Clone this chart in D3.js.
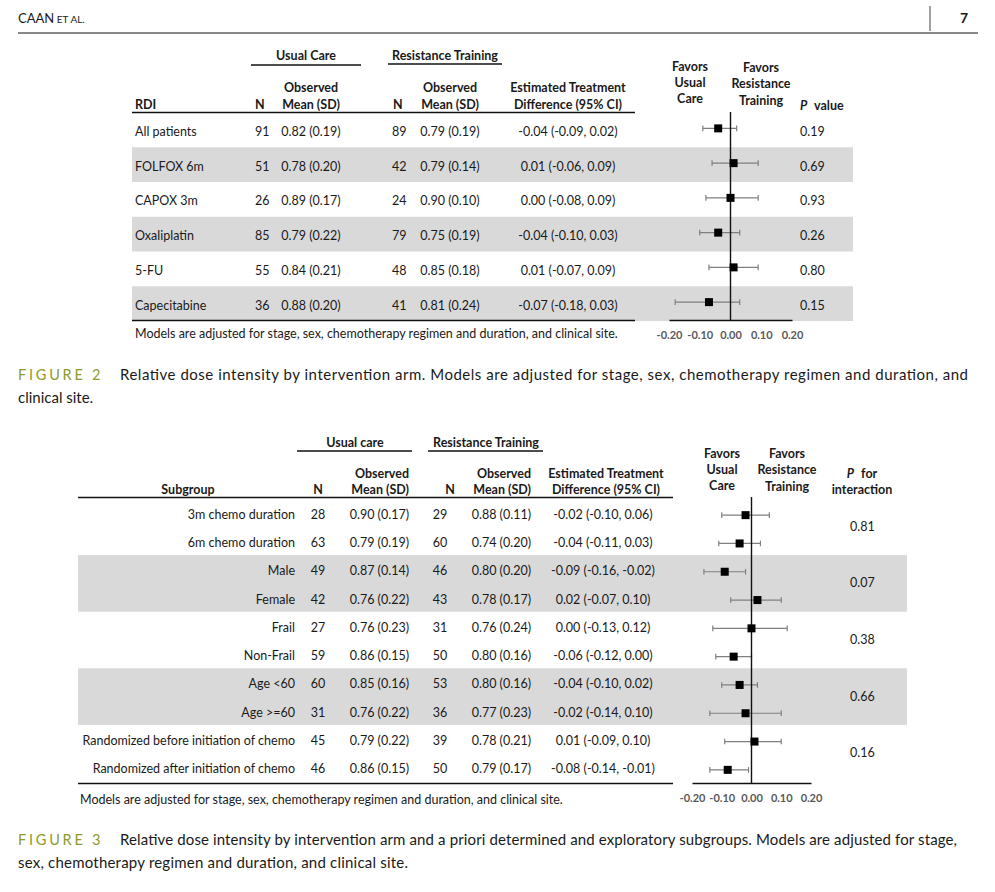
<!DOCTYPE html>
<html>
<head>
<meta charset="UTF-8">
<script src="https://d3js.org/d3.v7.min.js"></script>
<style>
	body{ margin: 0; background: #fff; }
	svg text{ font-family: Lato, 'Open Sans', sans-serif; fill: #1a1a1a; }
</style>
</head>
<body>
<svg width="995" height="892"></svg>
<script>
	// ---- Figure 2 data (RDI by arm)
	var rdiLabels = ["All patients", "FOLFOX 6m", "CAPOX 3m", "Oxaliplatin", "5-FU", "Capecitabine"];
	var rdiUcN = [91, 51, 26, 85, 55, 36];
	var rdiUcMean = [0.82, 0.78, 0.89, 0.79, 0.84, 0.88];
	var rdiUcSd = [0.19, 0.20, 0.17, 0.22, 0.21, 0.20];
	var rdiRtN = [89, 42, 24, 79, 48, 41];
	var rdiRtMean = [0.79, 0.79, 0.90, 0.75, 0.85, 0.81];
	var rdiRtSd = [0.19, 0.14, 0.10, 0.19, 0.18, 0.24];
	var rdiEst = [-0.04, 0.01, 0.00, -0.04, 0.01, -0.07];
	var rdiLo = [-0.09, -0.06, -0.08, -0.10, -0.07, -0.18];
	var rdiHi = [0.02, 0.09, 0.09, 0.03, 0.09, 0.03];
	var rdiP = ["0.19", "0.69", "0.93", "0.26", "0.80", "0.15"];

	// ---- Figure 3 data (subgroups)
	var subLabels = ["3m chemo duration", "6m chemo duration", "Male", "Female", "Frail", "Non-Frail",
		"Age <60", "Age >=60", "Randomized before initiation of chemo", "Randomized after initiation of chemo"];
	var subUcN = [28, 63, 49, 42, 27, 59, 60, 31, 45, 46];
	var subUcMean = [0.90, 0.79, 0.87, 0.76, 0.76, 0.86, 0.85, 0.76, 0.79, 0.86];
	var subUcSd = [0.17, 0.19, 0.14, 0.22, 0.23, 0.15, 0.16, 0.22, 0.22, 0.15];
	var subRtN = [29, 60, 46, 43, 31, 50, 53, 36, 39, 50];
	var subRtMean = [0.88, 0.74, 0.80, 0.78, 0.76, 0.80, 0.80, 0.77, 0.78, 0.79];
	var subRtSd = [0.11, 0.20, 0.20, 0.17, 0.24, 0.16, 0.16, 0.23, 0.21, 0.17];
	var subEst = [-0.02, -0.04, -0.09, 0.02, 0.00, -0.06, -0.04, -0.02, 0.01, -0.08];
	var subLo = [-0.10, -0.11, -0.16, -0.07, -0.13, -0.12, -0.10, -0.14, -0.09, -0.14];
	var subHi = [0.06, 0.03, -0.02, 0.10, 0.12, 0.00, 0.02, 0.10, 0.10, -0.01];
	var subPInteraction = ["0.81", "0.07", "0.38", "0.66", "0.16"];

	var forestTicks = [-0.20, -0.10, 0.00, 0.10, 0.20];
	var footnote = "Models are adjusted for stage, sex, chemotherapy regimen and duration, and clinical site.";

	var svg = d3.select("svg");
	var f2 = function(v){ return v.toFixed(2); };   // plain hyphen minus, not d3's unicode minus
	var BAND = "#d9d9d9", BAR = "#7f7f7f", FS = 12.5;

	function txt(g, x, y, s, opt){
		opt = opt || {};
		return g.append("text").attr("x", x).attr("y", y)
			.attr("text-anchor", opt.anchor || "start")
			.attr("font-size", opt.size || FS)
			.attr("font-weight", opt.bold ? "bold" : null)
			.text(s);
	}
	function hline(g, x1, x2, y, w){
		g.append("line").attr("x1", x1).attr("x2", x2).attr("y1", y).attr("y2", y)
			.attr("stroke", "#111").attr("stroke-width", w || 1.3);
	}

	// ---- Page header
	var head = svg.append("g");
	var caan = txt(head, 18, 23, "CAAN", {size: 13});
	caan.append("tspan").attr("font-size", 10).text(" ET AL.");
	txt(head, 968, 23, "7", {size: 14, anchor: "end", bold: true});
	head.append("line").attr("x1", 930).attr("x2", 930).attr("y1", 6).attr("y2", 31)
		.attr("stroke", "#444").attr("stroke-width", 1);
	hline(head, 18, 978, 33, 1);

	// ---- Shared forest drawing
	function forest(g, x, y, est, lo, hi, yTop, yAxis, dy){
		g.selectAll(".ci").data(est).enter().append("line")
			.attr("x1", function(d, i){ return x(lo[i]); })
			.attr("x2", function(d, i){ return x(hi[i]); })
			.attr("y1", function(d, i){ return y(i) + dy; })
			.attr("y2", function(d, i){ return y(i) + dy; })
			.attr("stroke", BAR).attr("stroke-width", 1.2);
		[lo, hi].forEach(function(arr){
			g.selectAll(null).data(arr).enter().append("line")
				.attr("x1", function(d){ return x(d); }).attr("x2", function(d){ return x(d); })
				.attr("y1", function(d, i){ return y(i) + dy - 2.8; })
				.attr("y2", function(d, i){ return y(i) + dy + 2.8; })
				.attr("stroke", BAR).attr("stroke-width", 1.2);
		});
		g.append("line").attr("x1", x(0)).attr("x2", x(0)).attr("y1", yTop).attr("y2", yAxis)
			.attr("stroke", "#111").attr("stroke-width", 1.4);
		g.selectAll("rect.pt").data(est).enter().append("rect")
			.attr("x", function(d){ return x(d) - 4; })
			.attr("y", function(d, i){ return y(i) + dy - 4; })
			.attr("width", 8).attr("height", 8).attr("fill", "#000");
		var ax = g.append("g").attr("transform", "translate(0," + yAxis + ")")
			.call(d3.axisBottom(x).tickValues(forestTicks).tickFormat(f2)
				.tickSizeInner(0).tickSizeOuter(0).tickPadding(11));
		ax.select(".domain").attr("stroke", "#111").attr("stroke-width", 1.4);
		ax.selectAll("text").attr("font-size", 11).attr("font-weight", "bold")
			.style("fill", "#595959").attr("font-family", "Lato, sans-serif");
	}

	// ================= FIGURE 2 =================
	var g2 = svg.append("g");
	var y2 = d3.scaleBand().domain(d3.range(rdiLabels.length)).range([112.5, 321]);
	var c2 = function(i){ return y2(i) + y2.bandwidth() / 2; };

	g2.selectAll("rect.band").data(rdiLabels.filter(function(d, i){ return i % 2 == 1; })).enter()
		.append("rect")
		.attr("x", 132).attr("width", 853 - 132)
		.attr("y", function(d, i){ return y2(i * 2 + 1); })
		.attr("height", y2.bandwidth()).attr("fill", BAND);

	txt(g2, 306, 59.5, "Usual Care", {anchor: "middle", bold: true});
	txt(g2, 445, 59.5, "Resistance Training", {anchor: "middle", bold: true});
	hline(g2, 251, 361, 65, 1.3);
	hline(g2, 388, 502, 64, 1.3);
	txt(g2, 135, 108.5, "RDI", {bold: true});
	txt(g2, 255, 108.5, "N", {bold: true});
	txt(g2, 393, 108.5, "N", {bold: true});
	[311, 450].forEach(function(cx){
		txt(g2, cx, 92, "Observed", {anchor: "middle", bold: true});
		txt(g2, cx, 108.5, "Mean (SD)", {anchor: "middle", bold: true});
	});
	txt(g2, 568, 92, "Estimated Treatment", {anchor: "middle", bold: true});
	txt(g2, 568, 108.5, "Difference (95% CI)", {anchor: "middle", bold: true});
	hline(g2, 132, 635, 112.5, 1.5);
	hline(g2, 132, 635, 320.5, 1.5);

	rdiLabels.forEach(function(lab, i){
		var yb = c2(i) + 6;
		txt(g2, 135, yb, lab);
		txt(g2, 255, yb, rdiUcN[i]);
		txt(g2, 311, yb, f2(rdiUcMean[i]) + " (" + f2(rdiUcSd[i]) + ")", {anchor: "middle"});
		txt(g2, 392, yb, rdiRtN[i]);
		txt(g2, 450, yb, f2(rdiRtMean[i]) + " (" + f2(rdiRtSd[i]) + ")", {anchor: "middle"});
		txt(g2, 568, yb, f2(rdiEst[i]) + " (" + f2(rdiLo[i]) + ", " + f2(rdiHi[i]) + ")", {anchor: "middle"});
		txt(g2, 800, yb, rdiP[i]);
	});

	var x2 = d3.scaleLinear().domain([-0.2, 0.2]).range([669, 792]);
	forest(g2, x2, c2, rdiEst, rdiLo, rdiHi, 112, 320, -1.5);

	["Favors", "Usual", "Care"].forEach(function(s, k){ txt(g2, 690, 70.5 + k * 16, s, {anchor: "middle", bold: true}); });
	["Favors", "Resistance", "Training"].forEach(function(s, k){ txt(g2, 761, 71.5 + k * 16.5, s, {anchor: "middle", bold: true}); });
	var pv = txt(g2, 800, 109.5, "", {bold: true});
	pv.append("tspan").attr("font-style", "italic").text("P");
	pv.append("tspan").attr("dx", 4).text(" value");

	txt(g2, 135, 338, footnote, {size: 12.5});

	// ================= FIGURE 3 =================
	var g3 = svg.append("g");
	var y3 = d3.scaleBand().domain(d3.range(subLabels.length)).range([500, 783]);
	var c3 = function(i){ return y3(i) + y3.bandwidth() / 2; };

	[2, 6].forEach(function(r){
		g3.append("rect").attr("x", 78).attr("width", 907 - 78)
			.attr("y", y3(r) - 1.5).attr("height", y3.bandwidth() * 2).attr("fill", BAND);
	});

	txt(g3, 355, 446.5, "Usual care", {anchor: "middle", bold: true});
	txt(g3, 486, 446.5, "Resistance Training", {anchor: "middle", bold: true});
	hline(g3, 297, 412, 451, 1.3);
	hline(g3, 428, 543, 451, 1.3);
	txt(g3, 188, 494, "Subgroup", {anchor: "middle", bold: true});
	txt(g3, 318, 494, "N", {anchor: "middle", bold: true});
	txt(g3, 450, 494, "N", {anchor: "middle", bold: true});
	[409, 531].forEach(function(rx){
		txt(g3, rx, 477.5, "Observed", {anchor: "end", bold: true});
		txt(g3, rx, 494, "Mean (SD)", {anchor: "end", bold: true});
	});
	txt(g3, 606, 477.5, "Estimated Treatment", {anchor: "middle", bold: true});
	txt(g3, 606, 494, "Difference (95% CI)", {anchor: "middle", bold: true});
	hline(g3, 78, 673, 497.5, 1.5);
	hline(g3, 78, 673, 783.5, 1.5);

	subLabels.forEach(function(lab, i){
		var yb = c3(i) + 4.5;
		txt(g3, 295, yb, lab, {anchor: "end"});
		txt(g3, 318, yb, subUcN[i], {anchor: "middle"});
		txt(g3, 409, yb, f2(subUcMean[i]) + " (" + f2(subUcSd[i]) + ")", {anchor: "end"});
		txt(g3, 440, yb, subRtN[i], {anchor: "middle"});
		txt(g3, 531, yb, f2(subRtMean[i]) + " (" + f2(subRtSd[i]) + ")", {anchor: "end"});
		txt(g3, 603, yb, f2(subEst[i]) + " (" + f2(subLo[i]) + ", " + f2(subHi[i]) + ")", {anchor: "middle"});
	});
	subPInteraction.forEach(function(p, k){
		txt(g3, 850, (c3(k * 2) + c3(k * 2 + 1)) / 2 + 2.5, p);
	});

	var x3 = d3.scaleLinear().domain([-0.2, 0.2]).range([692, 811]);
	forest(g3, x3, c3, subEst, subLo, subHi, 497, 783, 1);

	["Favors", "Usual", "Care"].forEach(function(s, k){ txt(g3, 722, 457.5 + k * 16, s, {anchor: "middle", bold: true}); });
	["Favors", "Resistance", "Training"].forEach(function(s, k){ txt(g3, 787, 457.5 + k * 16.5, s, {anchor: "middle", bold: true}); });
	var pi = txt(g3, 862, 477.5, "", {anchor: "middle", bold: true});
	pi.append("tspan").attr("font-style", "italic").text("P");
	pi.append("tspan").attr("dx", 4).text(" for");
	txt(g3, 862, 494, "interaction", {anchor: "middle", bold: true});

	txt(g3, 80, 804, footnote, {size: 12.5});

	// ---- Captions
	function caption(num, y, line1, line2){
		txt(svg, 18, y, "FIGURE " + num, {size: 14.5})
			.style("fill", "#8c9b2c").attr("letter-spacing", 2.6)
			.attr("textLength", 85).attr("lengthAdjust", "spacing");
		var t1 = txt(svg, 120, y, line1[0], {size: 15});
		if(line1[1]) t1.attr("textLength", line1[1]).attr("lengthAdjust", "spacing");
		var t2 = txt(svg, 18, y + 23, line2[0], {size: 15});
		if(line2[1]) t2.attr("textLength", line2[1]).attr("lengthAdjust", "spacing");
	}
	caption(2, 380, ["Relative dose intensity by intervention arm. Models are adjusted for stage, sex, chemotherapy regimen and duration, and", 848],
		["clinical site.", null]);
	caption(3, 845, ["Relative dose intensity by intervention arm and a priori determined and exploratory subgroups. Models are adjusted for stage,", 837],
		["sex, chemotherapy regimen and duration, and clinical site.", 390]);
</script>
</body>
</html>
